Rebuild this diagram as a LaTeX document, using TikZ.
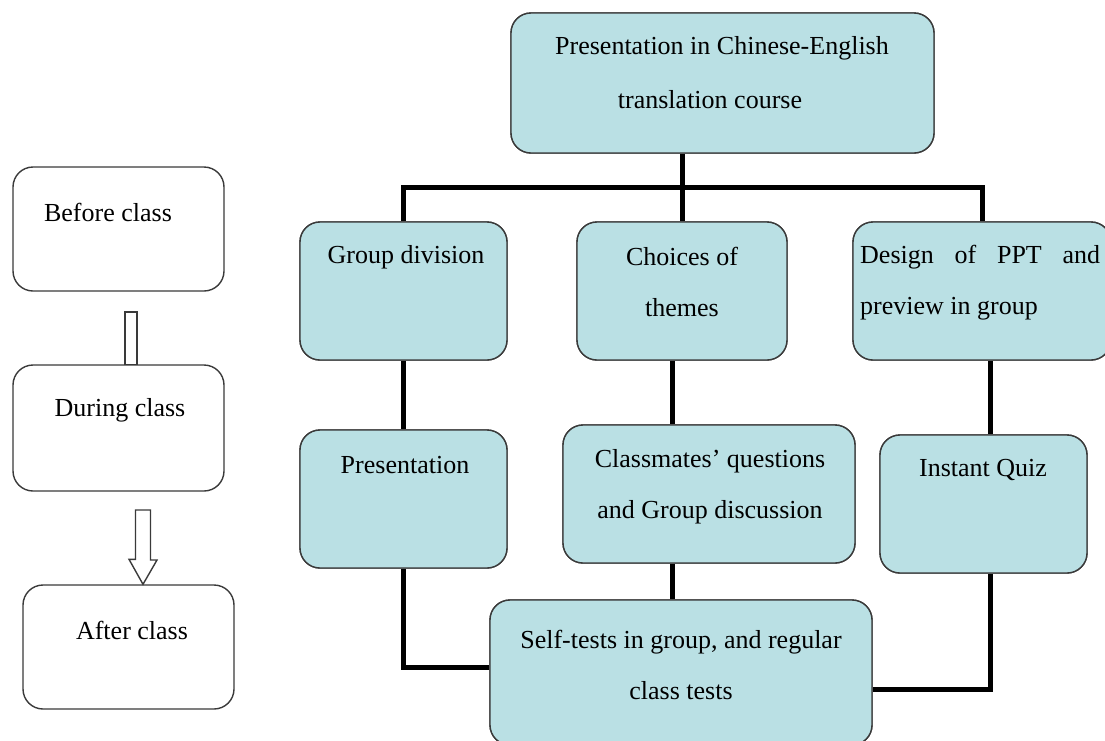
\documentclass[tikz,border=0pt]{standalone}
\usepackage{fontspec}
\setmainfont{Liberation Serif}
\definecolor{boxfill}{HTML}{BAE0E4}
\definecolor{boxline}{HTML}{3A3A3A}
\begin{document}
\begin{tikzpicture}[x=1pt,y=-1pt,
  box/.style={draw=boxline,line width=1.4pt,rounded corners=20pt,fill=boxfill,inner sep=0pt},
  wbox/.style={box,fill=white},
  txt/.style={inner sep=0pt,font=\fontsize{26}{51}\selectfont,align=center},
  conn/.style={line width=5pt,black},
  hollow/.style={draw=boxline,line width=1.4pt,fill=white}]
\useasboundingbox (0,0) rectangle (1105,740);
\clip (0,0) rectangle (1105,740);
% left column
\node[wbox,minimum width=211pt,minimum height=124pt] (bef) at (118.5,229) {};
\node[wbox,minimum width=211pt,minimum height=126pt] (dur) at (118.5,428) {};
\node[wbox,minimum width=211pt,minimum height=124pt] (aft) at (128.5,647) {};
\node[txt] (tbef) at (108,212) {Before class};
\node[txt] (tdur) at (120,410) {During class};
\node[txt] (taft) at (132,630) {After class};
\coordinate (a1) at (131,312);
\draw[hollow] (a1) ++(-6,0) rectangle ([xshift=6pt]dur.north -| a1);
\coordinate (a2) at (143,510);
\draw[hollow] (a2) ++(-7.5,0) -- ++(15,0) -- ++(0,50) -- ++(6.5,0) -- (aft.north -| a2) -- ++(-14,-25) -- ++(6.5,0) -- cycle;
% boxes
\coordinate (hl) at (0,187);
\coordinate (lowA) at (0,667);
\node[box,minimum width=423pt,minimum height=140pt] (top) at (722.5,83) {};
\node[box,minimum width=207pt,minimum height=138pt] (grp) at (403.5,291) {};
\node[box,minimum width=210pt,minimum height=138pt] (cho) at (682,291) {};
\node[box,minimum width=258pt,minimum height=138pt] (des) at (982,291) {};
\node[box,minimum width=207pt,minimum height=138pt] (pre) at (403.5,499) {};
\node[box,minimum width=292pt,minimum height=138pt] (cla) at (709,494) {};
\node[box,minimum width=207pt,minimum height=138pt] (iq) at (983.5,504) {};
\node[box,minimum width=382pt,minimum height=145pt] (bot) at (681,672.5) {};
\coordinate (cx) at ([xshift=-10pt]cho.south);
\coordinate (dx) at ([xshift=8pt]des.south);
% connectors
\draw[conn] (cho.north |- top.south) -- (cho.north);
\draw[conn] (grp.north) -- (grp.north |- hl) -- (des.north |- hl) -- (des.north);
\draw[conn] (grp.south) -- (pre.north);
\draw[conn] (cx) -- (cla.north -| cx);
\draw[conn] (dx) -- (iq.north -| dx);
\draw[conn] (pre.south) |- (bot.west |- lowA);
\draw[conn] (cla.south -| cx) -- (bot.north -| cx);
\draw[conn] (iq.south -| dx) |- ([yshift=-17pt]bot.east);
% redraw boxes over connector ends
\node[box,minimum width=423pt,minimum height=140pt] at (top) {};
\node[box,minimum width=207pt,minimum height=138pt] at (grp) {};
\node[box,minimum width=210pt,minimum height=138pt] at (cho) {};
\node[box,minimum width=258pt,minimum height=138pt] at (des) {};
\node[box,minimum width=207pt,minimum height=138pt] at (pre) {};
\node[box,minimum width=292pt,minimum height=138pt] at (cla) {};
\node[box,minimum width=207pt,minimum height=138pt] at (iq) {};
\node[box,minimum width=382pt,minimum height=145pt] at (bot) {};
% texts
\node[txt] (ttop1) at (722,48) {Presentation in Chinese-English};
\node[txt] (ttop2) at (710,100) {translation course};
\node[txt] (tgrp) at (406,257) {Group division};
\node[txt] (tcho) at (682,282) {Choices of\\themes};
\node[txt,align=left,anchor=west] (tdes) at (860,283) {\hbox to 240pt{Design\hfill of\hfill PPT\hfill and}\\preview in group};
\node[txt] (tpre) at (405,465) {Presentation};
\node[txt] (tcla) at (710,487) {Classmates' questions\\and Group discussion};
\node[txt] (tiq) at (983,470) {Instant Quiz};
\node[txt] (tbot) at (681,665) {Self-tests in group, and regular\\class tests};
\end{tikzpicture}
\end{document}
